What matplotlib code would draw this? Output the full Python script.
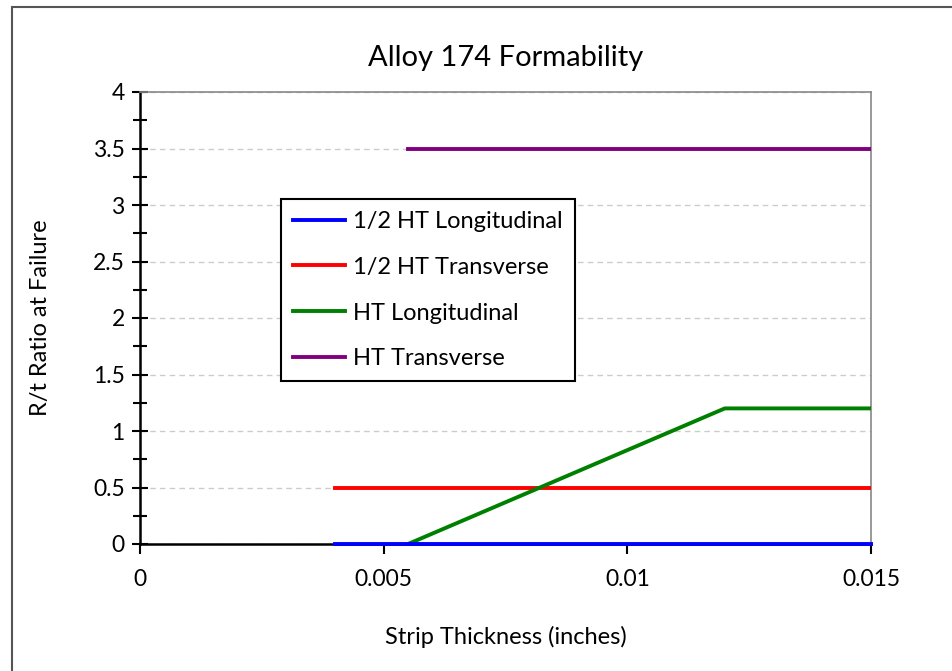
import matplotlib as mpl
import matplotlib.pyplot as plt
from matplotlib.patches import Rectangle

mpl.rcParams.update({
    'font.family': ['Lato', 'DejaVu Sans'],
    'figure.dpi': 100,
})

# data
half_long_x = [0.004, 0.015]
half_long_y = [0, 0]
half_trans_x = [0.004, 0.015]
half_trans_y = [0.5, 0.5]
ht_long_x = [0.0055, 0.012, 0.015]
ht_long_y = [0, 1.2, 1.2]
ht_trans_x = [0.0055, 0.015]
ht_trans_y = [3.5, 3.5]

x_ticks = [0, 0.005, 0.01, 0.015]
x_labels = ['0', '0.005', '0.01', '0.015']
y_ticks = [0, 0.5, 1, 1.5, 2, 2.5, 3, 3.5, 4]
y_labels = ['0', '0.5', '1', '1.5', '2', '2.5', '3', '3.5', '4']
y_minor = [0.25, 0.75, 1.25, 1.75, 2.25, 2.75, 3.25, 3.75]

fig = plt.figure(figsize=(9.53, 6.71))
ax = fig.add_axes([140 / 953, 1 - 544 / 671, 731 / 953, 452 / 671])

ax.plot(half_long_x, half_long_y, color='#0000ff', lw=2.8, label='1/2 HT Longitudinal', zorder=4, clip_on=False)
ax.plot(half_trans_x, half_trans_y, color='#ff0000', lw=2.8, label='1/2 HT Transverse', zorder=3)
ax.plot(ht_long_x, ht_long_y, color='#008000', lw=2.8, label='HT Longitudinal', zorder=3)
ax.plot(ht_trans_x, ht_trans_y, color='#800080', lw=2.8, label='HT Transverse', zorder=3)

ax.set_xlim(0, 0.015)
ax.set_ylim(0, 4)
ax.set_xticks(x_ticks)
ax.set_xticklabels(x_labels)
ax.set_yticks(y_ticks)
ax.set_yticklabels(y_labels)
ax.set_yticks(y_minor, minor=True)

ax.tick_params(axis='y', which='major', direction='inout', length=12, width=1.5, labelsize=16.5, pad=5)
ax.tick_params(axis='y', which='minor', direction='inout', length=10, width=1.5)
ax.tick_params(axis='x', which='major', direction='out', length=7, width=1.5, labelsize=16.5, pad=11)

ax.yaxis.grid(True, which='major', linestyle=(0, (4, 3)), color='#cccccc', lw=1)
ax.set_axisbelow(True)

ax.spines['left'].set_linewidth(1.8)
ax.spines['bottom'].set_linewidth(1.8)
ax.spines['top'].set_color('#888888')
ax.spines['right'].set_color('#888888')
ax.spines['top'].set_linewidth(1.2)
ax.spines['right'].set_linewidth(1.2)

ax.set_title('Alloy 174 Formability', fontsize=21, pad=19)
ax.set_xlabel('Strip Thickness (inches)', fontsize=17, labelpad=26)
ax.set_ylabel('R/t Ratio at Failure', fontsize=17, labelpad=30)

leg = ax.legend(loc='upper left', bbox_to_anchor=(0.193, 0.763), borderaxespad=0, fontsize=17,
                frameon=True, fancybox=False, edgecolor='black', framealpha=1,
                handlelength=2.2, labelspacing=1.05, borderpad=0.5, handletextpad=0.35)
leg.get_frame().set_linewidth(1.5)

fig.patches.append(Rectangle((12 / 953, -0.1), 1.2, 1.1 - 7 / 671, transform=fig.transFigure,
                             fill=False, edgecolor='#555555', lw=1.5))

plt.savefig('out.png')
